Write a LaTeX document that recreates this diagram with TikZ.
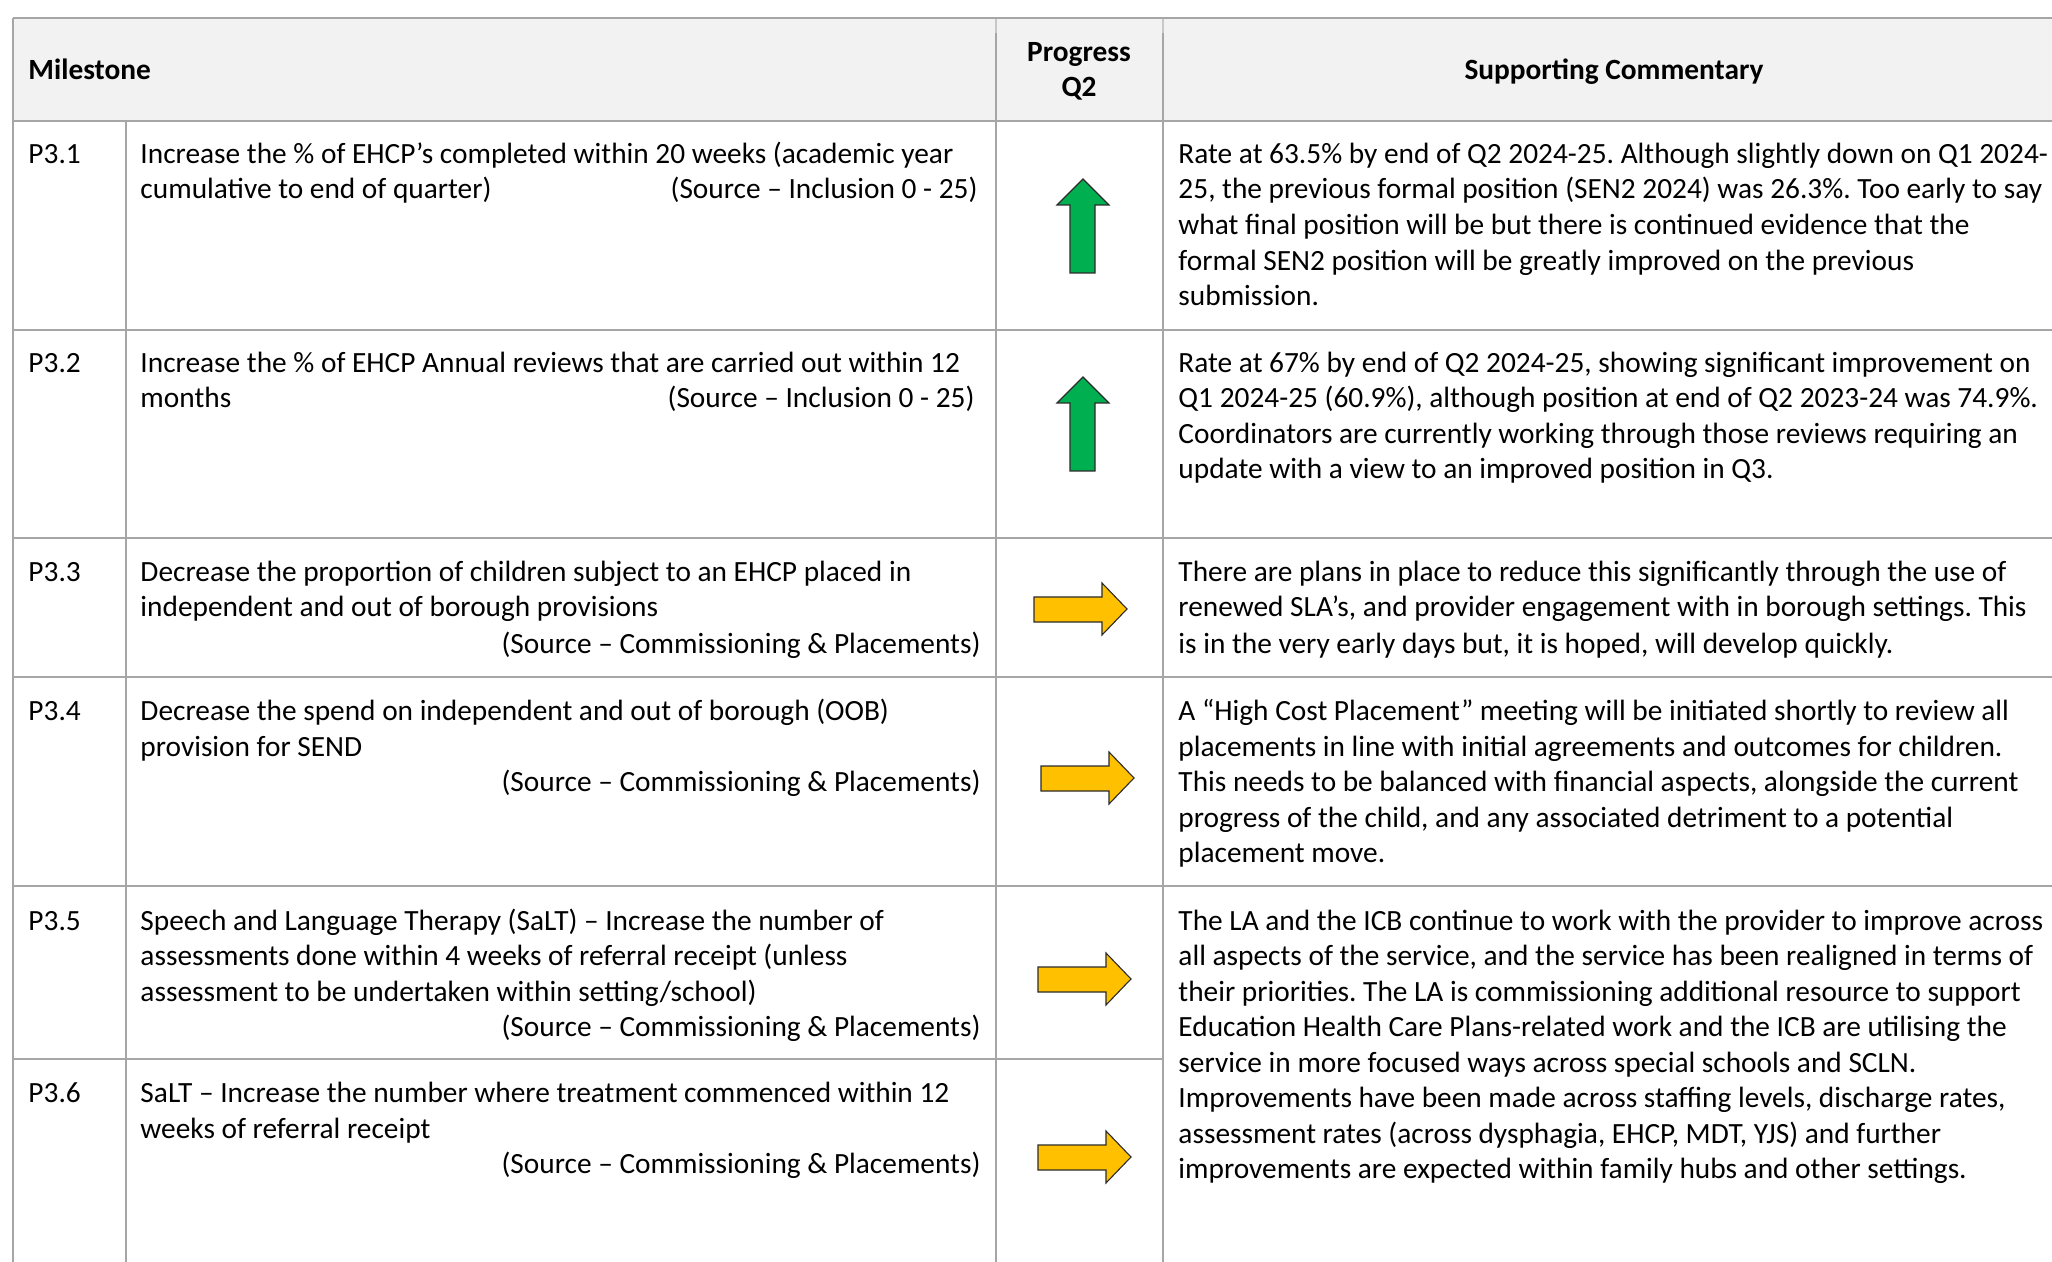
\documentclass[tikz,border=0pt]{standalone}
\usepackage{fontspec}
\setmainfont{Carlito}
\frenchspacing
\definecolor{gridc}{HTML}{A6A6A6}
\definecolor{gridlight}{HTML}{C8C8C8}
\definecolor{headc}{HTML}{F2F2F2}
\definecolor{upgreen}{HTML}{00B050}
\definecolor{flatyellow}{HTML}{FFC000}
\definecolor{arrowedge}{HTML}{2B2B2B}
\begin{document}
\begin{tikzpicture}[x=0.40887pt,y=-0.40887pt,
  grid/.style={draw=gridc,line width=0.55pt},
  gridfaint/.style={draw=gridlight,line width=0.45pt},
  txt/.style={anchor=base west,inner sep=0pt,font=\fontsize{12}{14.6}\selectfont},
  src/.style={anchor=base east,inner sep=0pt,font=\fontsize{12}{14.6}\selectfont},
  hdr/.style={anchor=base,inner sep=0pt,font=\fontsize{12}{14.6}\selectfont\bfseries},
  uparrow/.pic={\draw[fill=upgreen,draw=arrowedge,line width=0.45pt,line join=miter]
     (0,0) -- (26,26) -- (12,26) -- (12,94) -- (-13,94) -- (-13,26) -- (-26,26) -- cycle;},
  rightarrow/.pic={\draw[fill=flatyellow,draw=arrowedge,line width=0.45pt,line join=miter]
     (0,0) -- (-25,-26) -- (-25,-12) -- (-93,-12) -- (-93,13) -- (-25,13) -- (-25,26) -- cycle;}]
\useasboundingbox (0,0) rectangle (2052,1262);
% header shading
\fill[headc] (13,18) rectangle (2052,121);
% grid lines
\draw[gridfaint] (996,18) -- (996,33);
\draw[gridfaint] (1163,18) -- (1163,33);
\draw[grid] (13,18) -- (2052,18);
\draw[grid] (13,121) -- (2052,121);
\draw[grid] (13,330) -- (2052,330);
\draw[grid] (13,538) -- (2052,538);
\draw[grid] (13,677) -- (2052,677);
\draw[grid] (13,886) -- (2052,886);
\draw[grid] (13,1059) -- (1163,1059);
\draw[grid] (13,18) -- (13,1262);
\draw[grid] (126,121) -- (126,1262);
\draw[grid] (996,33) -- (996,1262);
\draw[grid] (1163,33) -- (1163,1262);
% header
\node[hdr,anchor=base west] (hm) at (28,80) {Milestone};
\node[hdr] (hp1) at (1079,62) {Progress};
\node[hdr] (hp2) at (1079,97) {Q2};
\node[hdr] (hc) at (1614,80) {Supporting Commentary};
% row 1
\node[txt] (id1) at (28,164) {P3.1};
\node[txt] (m1a) at (140,164) {Increase the \% of EHCP’s completed within 20 weeks (academic year};
\node[txt] (m1b) at (140,199) {cumulative to end of quarter)};
\node[src] (s1) at (978,199) {(Source – Inclusion 0 - 25)};
\node[txt] (c1a) at (1178,164) {Rate at 63.5\% by end of Q2 2024-25. Although slightly down on Q1 2024-};
\node[txt] (c1b) at (1178,199) {25, the previous formal position (SEN2 2024) was 26.3\%. Too early to say};
\node[txt] (c1c) at (1178,235) {what final position will be but there is continued evidence that the};
\node[txt] (c1d) at (1178,271) {formal SEN2 position will be greatly improved on the previous};
\node[txt] (c1e) at (1178,306) {submission.};
\pic (a1) at (1083,179) {uparrow};
% row 2
\node[txt] (id2) at (28,373) {P3.2};
\node[txt] (m2a) at (140,373) {Increase the \% of EHCP Annual reviews that are carried out within 12};
\node[txt] (m2b) at (140,408) {months};
\node[src] (s2) at (975,408) {(Source – Inclusion 0 - 25)};
\node[txt] (c2a) at (1178,373) {Rate at 67\% by end of Q2 2024-25, showing significant improvement on};
\node[txt] (c2b) at (1178,408) {Q1 2024-25 (60.9\%), although position at end of Q2 2023-24 was 74.9\%.};
\node[txt] (c2c) at (1178,444) {Coordinators are currently working through those reviews requiring an};
\node[txt] (c2d) at (1178,479) {update with a view to an improved position in Q3.};
\pic (a2) at (1083,377) {uparrow};
% row 3
\node[txt] (id3) at (28,582) {P3.3};
\node[txt] (m3a) at (140,582) {Decrease the proportion of children subject to an EHCP placed in};
\node[txt] (m3b) at (140,617) {independent and out of borough provisions};
\node[src] (s3) at (981,653) {(Source – Commissioning \& Placements)};
\node[txt] (c3a) at (1178,582) {There are plans in place to reduce this significantly through the use of};
\node[txt] (c3b) at (1178,617) {renewed SLA’s, and provider engagement with in borough settings. This};
\node[txt] (c3c) at (1178,653) {is in the very early days but, it is hoped, will develop quickly.};
\pic (a3) at (1127,609) {rightarrow};
% row 4
\node[txt] (id4) at (28,720) {P3.4};
\node[txt] (m4a) at (140,720) {Decrease the spend on independent and out of borough (OOB)};
\node[txt] (m4b) at (140,756) {provision for SEND};
\node[src] (s4) at (981,791) {(Source – Commissioning \& Placements)};
\node[txt] (c4a) at (1178,720) {A “High Cost Placement” meeting will be initiated shortly to review all};
\node[txt] (c4b) at (1178,756) {placements in line with initial agreements and outcomes for children.};
\node[txt] (c4c) at (1178,791) {This needs to be balanced with financial aspects, alongside the current};
\node[txt] (c4d) at (1178,827) {progress of the child, and any associated detriment to a potential};
\node[txt] (c4e) at (1178,862) {placement move.};
\pic (a4) at (1134,778) {rightarrow};
% row 5
\node[txt] (id5) at (28,930) {P3.5};
\node[txt] (m5a) at (140,930) {Speech and Language Therapy (SaLT) – Increase the number of};
\node[txt] (m5b) at (140,965) {assessments done within 4 weeks of referral receipt (unless};
\node[txt] (m5c) at (140,1001) {assessment to be undertaken within setting/school)};
\node[src] (s5) at (981,1036) {(Source – Commissioning \& Placements)};
\node[txt] (c5a) at (1178,930) {The LA and the ICB continue to work with the provider to improve across};
\node[txt] (c5b) at (1178,965) {all aspects of the service, and the service has been realigned in terms of};
\node[txt] (c5c) at (1178,1001) {their priorities. The LA is commissioning additional resource to support};
\node[txt] (c5d) at (1178,1036) {Education Health Care Plans-related work and the ICB are utilising the};
\node[txt] (c5e) at (1178,1072) {service in more focused ways across special schools and SCLN.};
\node[txt] (c5f) at (1178,1107) {Improvements have been made across staffing levels, discharge rates,};
\node[txt] (c5g) at (1178,1143) {assessment rates (across dysphagia, EHCP, MDT, YJS) and further};
\node[txt] (c5h) at (1178,1178) {improvements are expected within family hubs and other settings.};
\pic (a5) at (1131,979) {rightarrow};
% row 6
\node[txt] (id6) at (28,1102) {P3.6};
\node[txt] (m6a) at (140,1102) {SaLT – Increase the number where treatment commenced within 12};
\node[txt] (m6b) at (140,1138) {weeks of referral receipt};
\node[src] (s6) at (981,1173) {(Source – Commissioning \& Placements)};
\pic (a6) at (1131,1157) {rightarrow};
\end{tikzpicture}
\end{document}
